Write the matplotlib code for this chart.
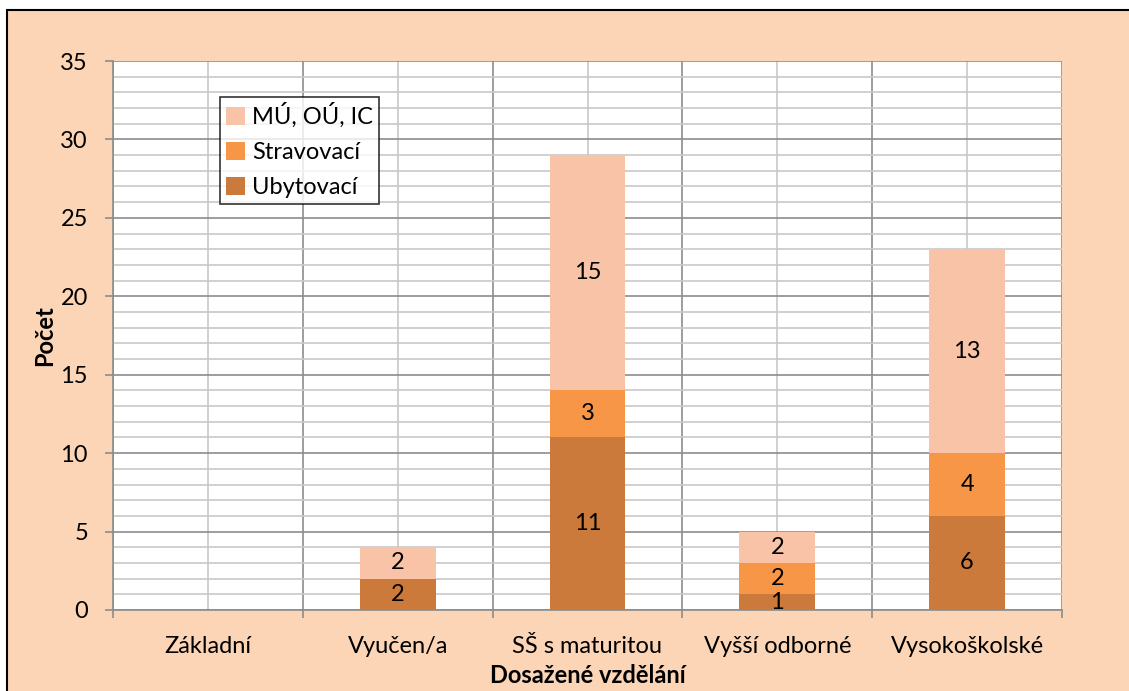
import matplotlib
matplotlib.use("Agg")
import matplotlib.pyplot as plt
from matplotlib.patches import Rectangle, Patch
import numpy as np

categories = ["Základní", "Vyučen/a", "SŠ s maturitou", "Vyšší odborné", "Vysokoškolské"]
ubytovaci = [0, 2, 11, 1, 6]
stravovaci = [0, 0, 3, 2, 4]
mu_ou_ic = [0, 2, 15, 2, 13]
series_names = ["Ubytovací", "Stravovací", "MÚ, OÚ, IC"]
colors = ["#CB7A3C", "#F79646", "#F9C3A8"]

plt.rcParams['font.family'] = ['Lato', 'DejaVu Sans']
FS = 17

W, H = 1129, 691
fig = plt.figure(figsize=(W/100, H/100), dpi=100, facecolor="white")
# chart area background with border
bg = Rectangle((7/W, -0.1), 1.2, 1.1 - 10/H, transform=fig.transFigure,
               facecolor="#FBD5B5", edgecolor="black", linewidth=1.5, zorder=-10)
fig.add_artist(bg)

left, right, top, bottom = 113, 1062, 61, 610
ax = fig.add_axes([left/W, 1 - bottom/H, (right-left)/W, (bottom-top)/H])
ax.set_facecolor("white")

x = np.arange(len(categories))
data = [ubytovaci, stravovaci, mu_ou_ic]
base = np.zeros(len(categories))
handles = []
for vals, name, c in zip(data, series_names, colors):
    vals = np.array(vals, dtype=float)
    bars = ax.bar(x, vals, width=0.4, bottom=base, color=c, zorder=3, linewidth=0)
    for xi, v, b in zip(x, vals, base):
        if v > 0:
            ax.text(xi, b + v/2, f"{int(v)}", ha="center", va="center",
                    fontsize=FS, color="black", zorder=4)
    base += vals
    handles.append(Patch(facecolor=c, edgecolor="none", label=name))

ax.set_xlim(-0.5, len(categories) - 0.5)
ax.set_ylim(0, 35)
ax.set_yticks(np.arange(0, 36, 5))
ax.set_yticks(np.arange(0, 36, 1), minor=True)
ax.set_xticks(x)
ax.set_xticklabels(categories, fontsize=FS)
ax.set_xticks(np.arange(-0.5, len(categories), 1), minor=True)

ax.grid(which="major", axis="y", color="#8C8C8C", linewidth=1.2, zorder=1)
ax.grid(which="minor", axis="y", color="#C8C8C8", linewidth=1.2, zorder=0.9)
ax.grid(which="minor", axis="x", color="#8C8C8C", linewidth=1.2, zorder=1)
ax.grid(which="major", axis="x", color="#C8C8C8", linewidth=1.2, zorder=0.9)
ax.set_axisbelow(True)

for s in ["top", "right"]:
    ax.spines[s].set_visible(False)
ax.spines["left"].set_color("#8C8C8C")
ax.spines["bottom"].set_color("#8C8C8C")
ax.spines["left"].set_linewidth(1.2)
ax.spines["bottom"].set_linewidth(1.2)

ax.tick_params(axis="y", which="major", length=6, color="#8C8C8C", width=1.2, labelsize=FS, pad=12)
ax.tick_params(axis="y", which="minor", length=0)
ax.tick_params(axis="x", which="major", length=0, labelsize=FS, pad=19)
ax.tick_params(axis="x", which="minor", length=6, color="#8C8C8C", width=1.2)

ax.set_ylabel("Počet", fontsize=FS, fontweight="bold", labelpad=3)
ax.set_xlabel("Dosažené vzdělání", fontsize=FS, fontweight="bold", labelpad=5)

leg = ax.legend(handles=handles[::-1], loc="upper left",
                bbox_to_anchor=((220-left)/(right-left), 1 - (97-top)/(bottom-top)),
                fontsize=FS, frameon=True, fancybox=False, edgecolor="black",
                handlelength=0.8, handleheight=0.8, handletextpad=0.3,
                borderpad=0.25, labelspacing=0.58, borderaxespad=0)
leg.get_frame().set_linewidth(1.2)

fig.savefig("out.png", dpi=100, facecolor="white")
